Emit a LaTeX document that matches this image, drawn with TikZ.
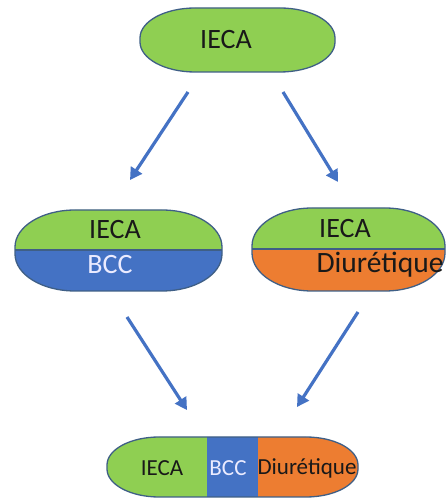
\documentclass[tikz,border=0pt]{standalone}
\usepackage{fontspec}
\setmainfont{Carlito}
\usetikzlibrary{arrows.meta}
\definecolor{pgreen}{HTML}{8FCF52}
\definecolor{pblue}{HTML}{4472C4}
\definecolor{porange}{HTML}{ED7D31}
\definecolor{pline}{HTML}{3F5F86}
\definecolor{parrow}{HTML}{4472C4}
\tikzset{
  pill/.style n args={6}{insert path={
    (#1+#5,#4) -- (#3-#5,#4)
    arc[start angle=90,end angle=0,x radius=#5pt,y radius=#6pt] -- (#3,#2+#6)
    arc[start angle=0,end angle=-90,x radius=#5pt,y radius=#6pt] -- (#1+#5,#2)
    arc[start angle=270,end angle=180,x radius=#5pt,y radius=#6pt] -- (#1,#4-#6)
    arc[start angle=180,end angle=90,x radius=#5pt,y radius=#6pt] -- cycle}},
  outline/.style={draw=pline,line width=1.3pt},
  big/.style={font=\fontsize{28}{31}\selectfont,text=black!90,inner sep=0pt},
  small/.style={font=\fontsize{23}{26}\selectfont,text=black!90,inner sep=0pt},
  flow/.style={draw=parrow,line width=3.2pt,-{Triangle[length=12pt,width=13pt]}},
}
\begin{document}
\begin{tikzpicture}[x=1pt,y=1pt]
\useasboundingbox (0,0) rectangle (447,501);
% top
\fill[pgreen,pill={140}{429}{335}{493}{55}{30}];
\draw[outline,pill={140}{429}{335}{493}{55}{30}];
\node[big] (t) at (226,461) {IECA};
% middle left
\begin{scope}
\clip[pill={15}{210}{222}{291}{60}{37}];
\fill[pgreen] (10,251) rectangle (230,300);
\fill[pblue] (10,200) rectangle (230,251);
\end{scope}
\draw[pline,line width=1.1pt] (15,251) -- (222,251);
\draw[outline,pill={15}{210}{222}{291}{60}{37}];
\node[big] (l1) at (115,271) {IECA};
\node[big,text=white!92!blue] (l2) at (110,236) {BCC};
% middle right
\begin{scope}
\clip[pill={252}{210}{445}{293}{60}{38}];
\fill[pgreen] (245,252) rectangle (450,300);
\fill[porange] (245,200) rectangle (450,252);
\end{scope}
\draw[pline,line width=1.1pt] (252,252) -- (445,252);
\draw[outline,pill={252}{210}{445}{293}{60}{38}];
\node[big] (r1) at (345,272) {IECA};
\node[big,font=\fontsize{29.5}{32}\selectfont] (r2) at (380,236) {Diurétique};
% bottom
\begin{scope}
\clip[pill={107}{4}{358}{64}{52}{28}];
\fill[pgreen] (100,0) rectangle (207,70);
\fill[pblue] (207,0) rectangle (258,70);
\fill[porange] (258,0) rectangle (365,70);
\end{scope}
\draw[outline,pill={107}{4}{358}{64}{52}{28}];
\node[small] (b1) at (162,33) {IECA};
\node[small,text=white!92!blue] (b2) at (228,33) {BCC};
\node[small] (b3) at (307,33) {Diurétique};
% arrows
\coordinate (a1s) at (188,409); \coordinate (a1e) at (130,321);
\coordinate (a2s) at (283,409); \coordinate (a2e) at (338,319);
\coordinate (a3s) at (127,184); \coordinate (a3e) at (187,91);
\coordinate (a4s) at (358,189); \coordinate (a4e) at (297,94);
\draw[flow] (a1s) -- (a1e);
\draw[flow] (a2s) -- (a2e);
\draw[flow] (a3s) -- (a3e);
\draw[flow] (a4s) -- (a4e);
\end{tikzpicture}
\end{document}
